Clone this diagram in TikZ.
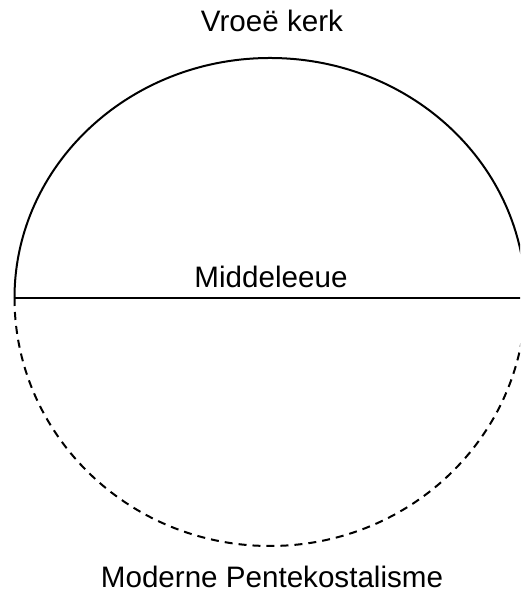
\documentclass[tikz,border=0pt]{standalone}
\usepackage{fontspec}
\setmainfont{Liberation Sans}
\usepackage{tikz}
\usetikzlibrary{positioning, calc}

\begin{document}
\begin{tikzpicture}[x=0.5pt, y=0.5pt, font=\fontsize{14.8}{17}\selectfont]
    \tikzstyle{label} = [anchor=base, inner sep=0pt]
    \tikzstyle{rim} = [line width=1pt]
    \tikzstyle{rimdash} = [line width=1pt, dash pattern=on 4pt off 3pt]

    \useasboundingbox (0,0) rectangle (520,593);
    \clip (0,0) rectangle (520,593);

    % Diameter
    \coordinate (west) at (14.5,295);
    \coordinate (east) at (525.5,295);

    % Halves
    \draw [rim] (west) arc[start angle=180, end angle=0, x radius=255.5, y radius=240];
    \draw [rimdash] (west) arc[start angle=180, end angle=360, x radius=255.5, y radius=248];
    \draw [rim] (west) -- (east);

    % Labels
    \node (early) [label] at (272,561) {Vroeë kerk};
    \node (middle) [label] at (271,305) {Middeleeue};
    \node (modern) [label] at (272,5) {Moderne Pentekostalisme};
\end{tikzpicture}
\end{document}
